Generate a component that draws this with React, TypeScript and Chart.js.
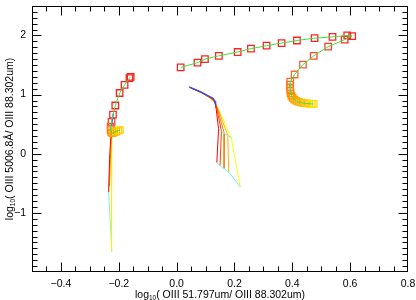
import React, { useEffect, useRef } from 'react';
import { Chart, registerables } from 'chart.js';
Chart.register(...registerables);

// ---------- axis definitions ----------
const xTickValues = [-0.4, -0.2, 0.0, 0.2, 0.4, 0.6, 0.8];
const xTickLabels = ['\u22120.4', '\u22120.2', '0.0', '0.2', '0.4', '0.6', '0.8'];
const yTickValues = [-1, 0, 1, 2];
const yTickLabels = ['\u22121', '0', '1', '2'];
const xTitleParts = ['log', '10', '( OIII 51.797um/ OIII 88.302um)'];
const yTitleParts = ['log', '10', '( OIII 5006.8\u00C5/ OIII 88.302um)'];

// ---------- track A (left, squares + green line) ----------
const trackAX = [-0.159, -0.163, -0.180, -0.197, -0.212, -0.220, -0.225, -0.228, -0.228, -0.226, -0.222, -0.216, -0.209, -0.202, -0.196];
const trackAY = [1.30, 1.28, 1.164, 1.027, 0.816, 0.66, 0.54, 0.46, 0.40, 0.36, 0.35, 0.36, 0.375, 0.39, 0.40];

// track A fan lines
const aRedX = [-0.226, -0.231, -0.235];
const aRedY = [0.38, 0.0, -0.65];
const aOrangeX = [-0.225, -0.229, -0.232];
const aOrangeY = [0.38, -0.1, -0.55];
const aYellowX = [-0.224, -0.226, -0.224];
const aYellowY = [0.38, -0.5, -1.62];
const aCyanX = [-0.232, -0.235, -0.224];
const aCyanY = [0.0, -0.65, -1.667];
const aBlueX = [-0.225, -0.222, -0.219];
const aBlueY = [0.48, 0.58, 0.68];

// ---------- track B (upper right, squares + green line) ----------
const trackBX = [0.014, 0.072, 0.098, 0.146, 0.211, 0.257, 0.311, 0.363, 0.416, 0.477, 0.539, 0.590, 0.607, 0.581, 0.524, 0.474, 0.437, 0.408,
  0.393, 0.392, 0.392, 0.393, 0.394, 0.397, 0.401, 0.407, 0.414, 0.422, 0.431, 0.440, 0.449, 0.458, 0.467, 0.474];
const trackBY = [1.46, 1.54, 1.60, 1.656, 1.72, 1.777, 1.827, 1.871, 1.915, 1.954, 1.976, 2.0, 1.99, 1.93, 1.81, 1.656, 1.507, 1.34,
  1.22, 1.17, 1.12, 1.07, 1.02, 0.98, 0.945, 0.915, 0.893, 0.877, 0.865, 0.856, 0.85, 0.846, 0.843, 0.842];

// ---------- track C (middle fan) ----------
const cBlueX = [0.043, 0.080, 0.108, 0.126, 0.133, 0.135];
const cBlueY = [1.13, 1.055, 0.982, 0.938, 0.889, 0.816];
const c1X = [0.046, 0.083, 0.110, 0.126, 0.132, 0.137, 0.145, 0.139];
const c1Y = [1.12, 1.045, 0.975, 0.925, 0.875, 0.75, 0.42, -0.15];
const c2X = [0.048, 0.085, 0.111, 0.126, 0.133, 0.140, 0.155, 0.150];
const c2Y = [1.115, 1.038, 0.966, 0.915, 0.865, 0.74, 0.38, -0.20];
const c3X = [0.050, 0.087, 0.112, 0.127, 0.134, 0.143, 0.165, 0.164];
const c3Y = [1.11, 1.03, 0.957, 0.905, 0.855, 0.73, 0.34, -0.25];
const c4X = [0.052, 0.089, 0.113, 0.128, 0.135, 0.146, 0.177, 0.180];
const c4Y = [1.105, 1.022, 0.948, 0.895, 0.845, 0.72, 0.31, -0.31];
const c5X = [0.054, 0.091, 0.114, 0.129, 0.136, 0.150, 0.189, 0.220];
const c5Y = [1.10, 1.014, 0.94, 0.885, 0.835, 0.70, 0.27, -0.56];
const cCyanTopX = [0.145, 0.155, 0.165, 0.177, 0.189];
const cCyanTopY = [0.42, 0.38, 0.34, 0.31, 0.27];
const cCyanBotX = [0.139, 0.150, 0.164, 0.180, 0.220];
const cCyanBotY = [-0.15, -0.20, -0.25, -0.31, -0.56];

// ---------- styles ----------
const GREEN = '#3ee03e';
const aSquareColors = ['#ff1e1e', '#ff1e1e', '#ff1e1e', '#ff1e1e', '#ff1e1e', '#ff2a2a', '#ff3a2a', '#ff5a2a', '#ff7a10', '#ff8c00', '#ffa000', '#ffb000', '#ffc000', '#ffcc00', '#ffd400'];
const bSquareColors = [
  '#ff2222', '#ff2222', '#ff2222', '#ff2222', '#ff2222', '#ff2222', '#ff2222', '#ff2222', '#ff2222', '#ff2222', '#ff2222', '#ff2222', '#ff2222', '#ff2a2a', '#ff3a30', '#ff4a35', '#ff5a35', '#ff6a35',
  '#ff6a30', '#ff7028', '#ff7820', '#ff8018', '#ff8810', '#ff9008', '#ff9800', '#ffa000', '#ffa800', '#ffb000', '#ffb800', '#ffc000', '#ffc800', '#ffd000', '#ffd800', '#ffe000'];

const pts = (xs: number[], ys: number[]) => xs.map((x, i) => ({ x, y: ys[i] }));

function lineDs(xs: number[], ys: number[], color: string, width = 1) {
  return {
    data: pts(xs, ys), showLine: true, borderColor: color, borderWidth: width,
    pointRadius: 0, pointHoverRadius: 0, fill: false, tension: 0,
  };
}
function squareDs(xs: number[], ys: number[], colors: string[]) {
  return {
    data: pts(xs, ys), showLine: false, pointStyle: 'rect', pointRadius: 4.6,
    pointBorderColor: colors, pointBackgroundColor: 'rgba(255,255,255,0)', pointBorderWidth: 1.3,
  };
}

const FONT = '"Liberation Sans", Arial, Helvetica, sans-serif';

const axesPlugin = {
  id: 'idlAxes',
  afterDraw(chart: any) {
    const { ctx, chartArea } = chart;
    const xs = chart.scales.x;
    const ys = chart.scales.y;
    const L = Math.round(chartArea.left) + 0.5;
    const R = Math.round(chartArea.right) - 0.5;
    const T = Math.round(chartArea.top) + 0.5;
    const B = Math.round(chartArea.bottom) - 0.5;
    ctx.save();
    ctx.strokeStyle = '#000';
    ctx.lineWidth = 1;
    ctx.strokeRect(L, T, R - L, B - T);
    ctx.beginPath();
    for (let k = -9; k <= 15; k++) {
      const px = Math.round(xs.getPixelForValue(k * 0.05)) + 0.5;
      const len = k % 4 === 0 ? 9 : 5;
      ctx.moveTo(px, B); ctx.lineTo(px, B - len);
      ctx.moveTo(px, T); ctx.lineTo(px, T + len);
    }
    for (let k = -19; k <= 24; k++) {
      const py = Math.round(ys.getPixelForValue(k * 0.1)) + 0.5;
      const len = k % 10 === 0 ? 9 : 5;
      ctx.moveTo(L, py); ctx.lineTo(L + len, py);
      ctx.moveTo(R, py); ctx.lineTo(R - len, py);
    }
    ctx.stroke();

    ctx.fillStyle = '#000';
    ctx.font = `10.5px ${FONT}`;
    ctx.textBaseline = 'middle';
    ctx.textAlign = 'center';
    xTickValues.forEach((v, i) => ctx.fillText(xTickLabels[i], xs.getPixelForValue(v), 284));
    ctx.textAlign = 'right';
    yTickValues.forEach((v, i) => ctx.fillText(yTickLabels[i], 26, ys.getPixelForValue(v)));

    const drawTitle = (parts: string[], cx: number, baseY: number) => {
      ctx.textAlign = 'left';
      ctx.textBaseline = 'alphabetic';
      const big = `10.5px ${FONT}`;
      const small = `6.5px ${FONT}`;
      ctx.font = big; const w0 = ctx.measureText(parts[0]).width; const w2 = ctx.measureText(parts[2]).width;
      ctx.font = small; const w1 = ctx.measureText(parts[1]).width;
      let x = cx - (w0 + w1 + w2) / 2;
      ctx.font = big; ctx.fillText(parts[0], x, baseY); x += w0;
      ctx.font = small; ctx.fillText(parts[1], x, baseY + 2); x += w1;
      ctx.font = big; ctx.fillText(parts[2], x, baseY);
    };
    const cx = (chartArea.left + chartArea.right) / 2;
    const cy = (chartArea.top + chartArea.bottom) / 2;
    drawTitle(xTitleParts, cx, 297.5);
    ctx.save();
    ctx.translate(13, cy);
    ctx.rotate(-Math.PI / 2);
    drawTitle(yTitleParts, 0, 0);
    ctx.restore();
    ctx.restore();
  },
};

export default function App() {
  const ref = useRef<HTMLCanvasElement | null>(null);
  useEffect(() => {
    if (!ref.current) return;
    const list: any[] = [
      // bottom to top
      lineDs(c5X, c5Y, '#ffff00'),
      lineDs(c4X, c4Y, '#ffb000'),
      lineDs(c3X, c3Y, '#ff8000'),
      lineDs(c2X, c2Y, '#ff4000'),
      lineDs(c1X, c1Y, '#ff0000'),
      lineDs(cCyanTopX, cCyanTopY, '#70f0f0'),
      lineDs(cCyanBotX, cCyanBotY, '#70f0f0'),
      lineDs(cBlueX, cBlueY, '#3050ff', 1.3),
      lineDs(aCyanX, aCyanY, '#80f0f0'),
      lineDs(aYellowX, aYellowY, '#ffee00'),
      lineDs(aOrangeX, aOrangeY, '#ff8000'),
      lineDs(aRedX, aRedY, '#ff0000'),
      squareDs(trackAX, trackAY, aSquareColors),
      squareDs(trackBX, trackBY, bSquareColors),
      lineDs(aBlueX, aBlueY, '#3050ff', 1.3),
      lineDs(trackAX, trackAY, GREEN),
      lineDs(trackBX, trackBY, GREEN),
    ];
    const datasets = list.map((d, i) => ({ ...d, order: list.length - i }));
    const chart = new Chart(ref.current, {
      type: 'scatter',
      data: { datasets },
      options: {
        responsive: false,
        animation: false,
        events: [],
        layout: { padding: { left: 32, right: 8, top: 0, bottom: 28 } },
        plugins: { legend: { display: false }, tooltip: { enabled: false }, title: { display: false } },
        scales: {
          x: { type: 'linear', display: false, min: -0.5, max: 0.8 },
          y: { type: 'linear', display: false, min: -2, max: 2.5 },
        },
      },
      plugins: [axesPlugin],
    } as any);
    return () => chart.destroy();
  }, []);
  return (
    <div style={{ position: 'fixed', left: 0, top: 0, width: 416, height: 300, background: '#fff' }}>
      <canvas ref={ref} width={416} height={300} style={{ display: 'block' }} />
    </div>
  );
}
